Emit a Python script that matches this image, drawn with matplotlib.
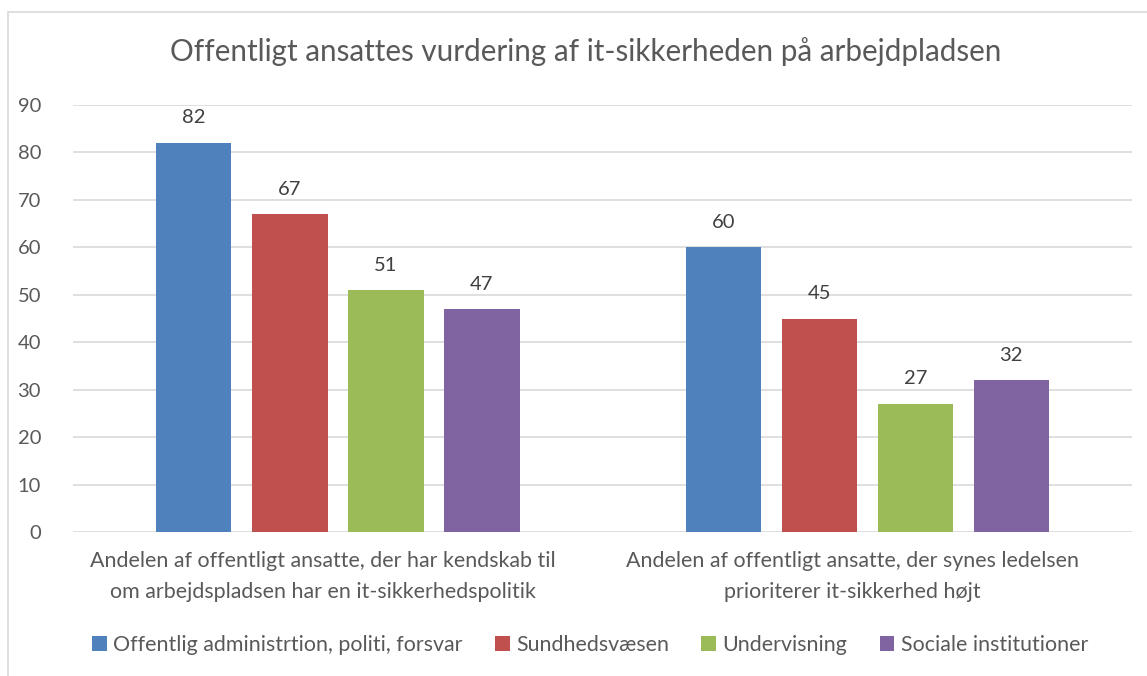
import matplotlib
matplotlib.use("Agg")
import matplotlib.pyplot as plt
import matplotlib.transforms as mtransforms
from matplotlib.patches import Rectangle
import numpy as np

title = "Offentligt ansattes vurdering af it-sikkerheden på arbejdpladsen"
categories = [
    "Andelen af offentligt ansatte, der har kendskab til\nom arbejdspladsen har en it-sikkerhedspolitik",
    "Andelen af offentligt ansatte, der synes ledelsen\nprioriterer it-sikkerhed højt",
]
series_names = ["Offentlig administrtion, politi, forsvar", "Sundhedsvæsen", "Undervisning", "Sociale institutioner"]
values = {
    "Offentlig administrtion, politi, forsvar": [82, 60],
    "Sundhedsvæsen": [67, 45],
    "Undervisning": [51, 27],
    "Sociale institutioner": [47, 32],
}
colors = ["#4f81bd", "#c0504d", "#9bbb59", "#8064a2"]
yticks = [0, 10, 20, 30, 40, 50, 60, 70, 80, 90]

plt.rcParams['font.family'] = ['Lato', 'DejaVu Sans']
W, H = 1147, 676
fig = plt.figure(figsize=(W / 100, H / 100), dpi=100)
ax = fig.add_axes([73 / W, 1 - 532 / H, (1132 - 73) / W, (532 - 105) / H])

# outer border
fig.patches.append(Rectangle((8 / W, -0.01), 1.02 - 8 / W, 1 - 12 / H + 0.01, transform=fig.transFigure,
                             fill=False, edgecolor="#d9d9d9", linewidth=1.2))

x = np.arange(len(categories))
step = 96 / 529.5
bw = 75.5 / 529.5
for i, name in enumerate(series_names):
    pos = x + (i - 1.5) * step
    bars = ax.bar(pos, values[name], width=bw, color=colors[i], label=name, zorder=3)
    for b, v in zip(bars, values[name]):
        ax.annotate(str(v), (b.get_x() + b.get_width() / 2, v), xytext=(0, 18), textcoords="offset points",
                    ha="center", va="center", fontsize=14.5, color="#404040")

ax.set_xlim(-0.5, 1.5)
ax.set_ylim(0, 90)
ax.set_yticks(yticks)
ax.set_xticks(x)
ax.set_xticklabels(categories, fontsize=15.4, color="#595959", linespacing=1.65)
ax.tick_params(axis="y", labelsize=14.5, labelcolor="#595959", length=0, pad=23)
ax.tick_params(axis="x", length=0, pad=14)
ax.yaxis.grid(True, color="#d9d9d9", linewidth=1.2, zorder=0)
ax.set_axisbelow(True)
for s in ax.spines.values():
    s.set_visible(False)

shift = mtransforms.ScaledTranslation(-15 / 100, 0, fig.dpi_scale_trans)
for lbl in ax.get_xticklabels():
    lbl.set_transform(lbl.get_transform() + shift)

fig.text(586 / W, 1 - 52 / H, title, ha="center", va="center", fontsize=21.3, color="#595959")

handles, labels = ax.get_legend_handles_labels()
leg = fig.legend(handles, labels, loc="center", bbox_to_anchor=(590 / W, 1 - 645 / H), ncol=4, frameon=False,
                 fontsize=15.4, handlelength=0.7, handleheight=0.7, handletextpad=0.3, columnspacing=1.5,
                 labelcolor="#595959")

fig.savefig("out.png", dpi=100)
